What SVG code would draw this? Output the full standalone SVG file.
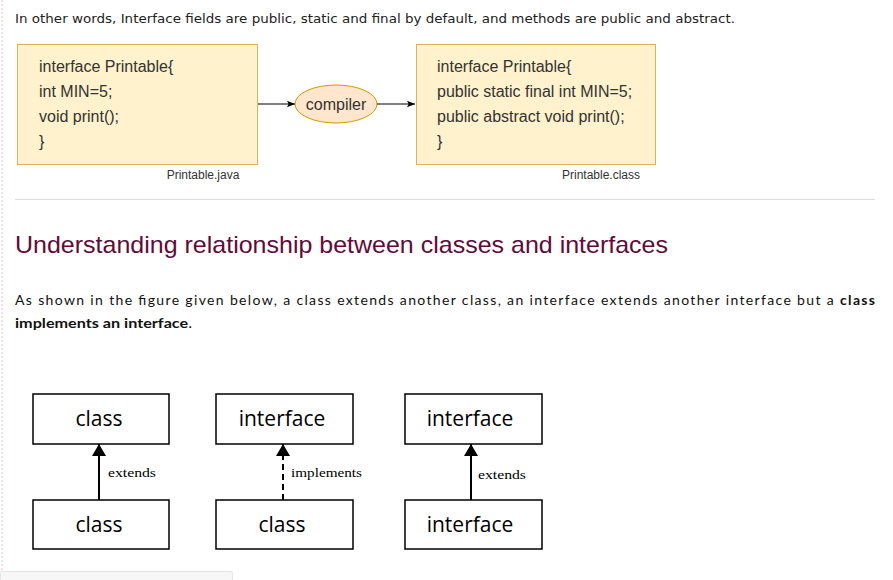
<svg xmlns="http://www.w3.org/2000/svg" width="893" height="580" viewBox="0 0 893 580">
<style>
.intro{font-family:"DejaVu Sans",Verdana,sans-serif;font-size:12.5px;fill:#222}
.code{font-family:"Liberation Sans",Arial,sans-serif;font-size:16px;fill:#333}
.cap{font-family:"Liberation Sans",Arial,sans-serif;font-size:12px;fill:#333}
.yel{fill:#fff2cc;stroke:#d6b656;stroke-width:1}
.uml{fill:#fff;stroke:#000;stroke-width:1.5}
.umlt{font-family:"Open Sans","DejaVu Sans",sans-serif;font-size:21px;fill:#000;text-anchor:middle}
.lbl{font-family:"Liberation Serif","DejaVu Serif",serif;font-size:13.5px;fill:#000}
.para{font-family:Lato,"Open Sans",sans-serif;font-size:14px;fill:#111}
</style>
<defs>
<marker id="ah" viewBox="0 0 10 10" refX="10" refY="5" markerWidth="8" markerHeight="8" markerUnits="userSpaceOnUse" orient="auto"><path d="M0,1 L10,5 L0,9 L2,5 Z" fill="#000"/></marker>
<marker id="tri" viewBox="0 0 12 14" refX="12" refY="7" markerWidth="12" markerHeight="14" markerUnits="userSpaceOnUse" orient="auto"><path d="M0,0 L12,7 L0,14 Z" fill="#000"/></marker>
</defs>
<rect width="893" height="580" fill="#fff"/>
<line x1="2" y1="0" x2="2" y2="580" stroke="#f0b8cc" stroke-width="1" stroke-dasharray="2,2"/>
<text class="intro" x="15" y="23" textLength="720" lengthAdjust="spacingAndGlyphs">In other words, Interface fields are public, static and final by default, and methods are public and abstract.</text>
<g id="source">
<rect class="yel" x="17.5" y="44.5" width="240" height="120"/>
<text class="code" x="39" y="72">interface Printable{</text>
<text class="code" x="39" y="97">int MIN=5;</text>
<text class="code" x="39" y="122">void print();</text>
<text class="code" x="39" y="147">}</text>
</g>
<g id="compiler">
<ellipse cx="336" cy="104" rx="41" ry="19" fill="#ffe6cc" stroke="#d79b00"/>
<text class="code" x="336" y="110" text-anchor="middle">compiler</text>
</g>
<g id="classfile">
<rect class="yel" x="416.5" y="44.5" width="239" height="120"/>
<text class="code" x="437" y="72">interface Printable{</text>
<text class="code" x="437" y="97">public static final int MIN=5;</text>
<text class="code" x="437" y="122">public abstract void print();</text>
<text class="code" x="437" y="147">}</text>
</g>
<g id="connectors-top">
<line x1="258" y1="104" x2="295" y2="104" stroke="#000" marker-end="url(#ah)"/>
<line x1="377" y1="104" x2="415" y2="104" stroke="#000" marker-end="url(#ah)"/>
</g>
<text class="cap" x="203" y="179" text-anchor="middle">Printable.java</text>
<text class="cap" x="601" y="179" text-anchor="middle">Printable.class</text>
<line x1="15" y1="199.5" x2="875" y2="199.5" stroke="#ddd"/>
<text x="15" y="253" font-family="'Liberation Sans',Arial,sans-serif" font-size="24" fill="#610b38" textLength="653" lengthAdjust="spacingAndGlyphs">Understanding relationship between classes and interfaces</text>
<text class="para" x="15" y="305" textLength="860" lengthAdjust="spacing">As shown in the figure given below, a class extends another class, an interface extends another interface but a <tspan font-weight="bold">class</tspan></text>
<text class="para" x="15" y="328" font-weight="bold" textLength="177" lengthAdjust="spacingAndGlyphs">implements an interface<tspan font-weight="normal">.</tspan></text>
<g id="c1top"><rect class="uml" x="33" y="394" width="136" height="50"/><text class="umlt" x="99" y="426">class</text></g>
<g id="c1bot"><rect class="uml" x="33" y="500" width="136" height="49"/><text class="umlt" x="99" y="532">class</text></g>
<g id="c2top"><rect class="uml" x="216" y="394" width="137" height="50"/><text class="umlt" x="282" y="426">interface</text></g>
<g id="c2bot"><rect class="uml" x="216" y="500" width="137" height="49"/><text class="umlt" x="282" y="532">class</text></g>
<g id="c3top"><rect class="uml" x="405" y="394" width="137" height="50"/><text class="umlt" x="470" y="426">interface</text></g>
<g id="c3bot"><rect class="uml" x="405" y="500" width="137" height="49"/><text class="umlt" x="470" y="532">interface</text></g>
<g id="connectors">
<line x1="99" y1="500" x2="99" y2="444" stroke="#000" stroke-width="2" marker-end="url(#tri)"/>
<line x1="283" y1="500" x2="283" y2="444" stroke="#000" stroke-width="2" stroke-dasharray="6,4" marker-end="url(#tri)"/>
<line x1="471" y1="500" x2="471" y2="444" stroke="#000" stroke-width="2" marker-end="url(#tri)"/>
<text class="lbl" x="108" y="477" textLength="48" lengthAdjust="spacingAndGlyphs">extends</text>
<text class="lbl" x="291" y="477" textLength="71" lengthAdjust="spacingAndGlyphs">implements</text>
<text class="lbl" x="478" y="479" textLength="48" lengthAdjust="spacingAndGlyphs">extends</text>
</g>
<rect x="0.5" y="571.5" width="232" height="12" rx="2" fill="#f7f7f7" stroke="#e4e4e4"/>
</svg>
